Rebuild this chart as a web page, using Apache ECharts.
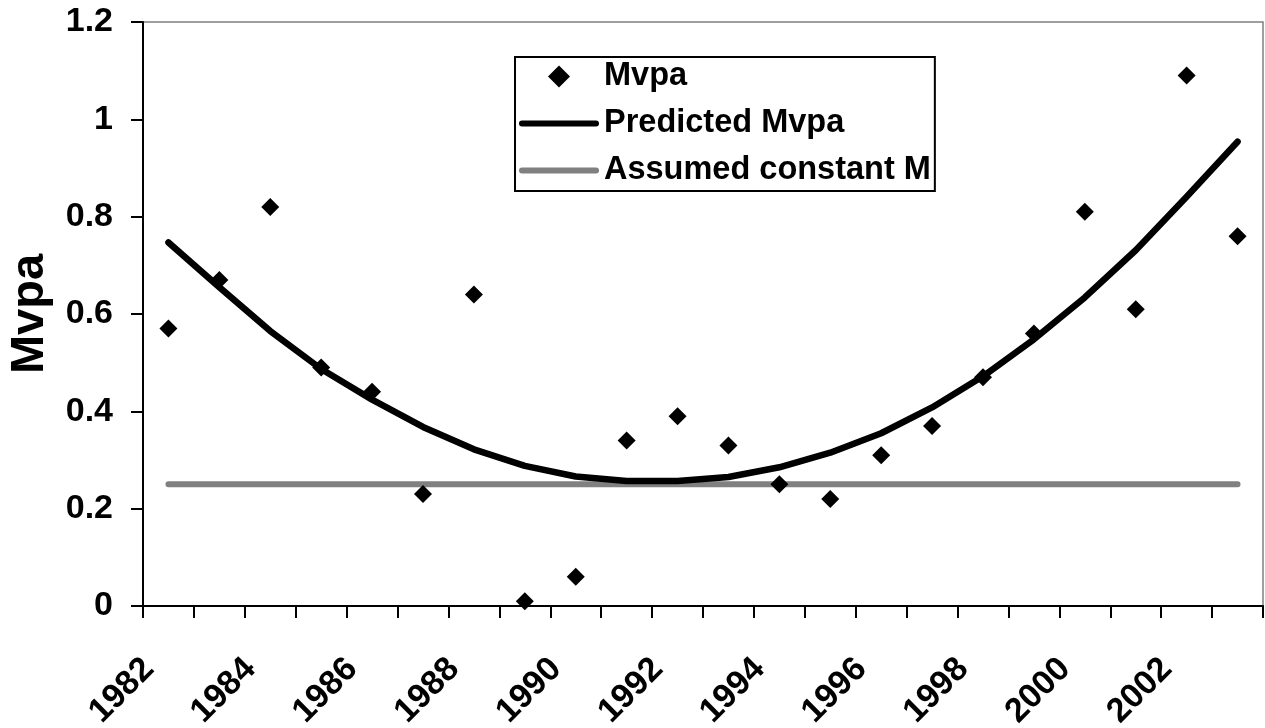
<!DOCTYPE html>
<html>
<head>
<meta charset="utf-8">
<script src="https://cdn.jsdelivr.net/npm/echarts@6/dist/echarts.min.js"></script>
<style>
html,body{margin:0;padding:0;background:#fff;}
#chart{width:1265px;height:728px;}
</style>
</head>
<body>
<div id="chart"></div>
<script>
const years = ['1982','1983','1984','1985','1986','1987','1988','1989','1990','1991','1992','1993','1994','1995','1996','1997','1998','1999','2000','2001','2002','2003'];
const mvpa = [0.57,0.67,0.82,0.49,0.44,0.23,0.64,0.01,0.06,0.34,0.39,0.33,0.25,0.22,0.31,0.37,0.47,0.56,0.81,0.61,1.09,0.76];
const predictedMvpa = [0.747,0.655,0.565,0.487,0.424,0.368,0.322,0.288,0.266,0.257,0.257,0.265,0.285,0.315,0.355,0.408,0.472,0.548,0.634,0.731,0.841,0.954];
const assumedM = [0.25,0.25,0.25,0.25,0.25,0.25,0.25,0.25,0.25,0.25,0.25,0.25,0.25,0.25,0.25,0.25,0.25,0.25,0.25,0.25,0.25,0.25];
const yTicks = {min: 0, max: 1.2, interval: 0.2};

const FONT = '"Liberation Sans", Arial, Helvetica, sans-serif';
const DIAMOND_ICON = 'path://M0,-1L1,0L0,1L-1,0Z';
const LINE_ICON = 'path://M3,0H77A3,3 0 0 1 77,6H3A3,3 0 0 1 3,0Z';

const chart = echarts.init(document.getElementById('chart'), null, {renderer: 'canvas'});
chart.setOption({
  animation: false,
  backgroundColor: '#fff',
  textStyle: {fontFamily: FONT},
  grid: {left: 143, right: 2, top: 22, bottom: 122, containLabel: false, outerBoundsMode: 'none', show: true, borderColor: '#808080', borderWidth: 1.5},
  legend: {
    orient: 'vertical',
    left: 515, top: 57,
    padding: [3, 4, 4, 4],
    itemGap: 14,
    itemWidth: 80, itemHeight: 22,
    symbolKeepAspect: true,
    borderColor: '#000', borderWidth: 2,
    backgroundColor: '#fff',
    textStyle: {fontFamily: FONT, fontWeight: 'bold', fontSize: 32.5, color: '#000'},
    data: [
      {name: 'Mvpa', icon: DIAMOND_ICON},
      {name: 'Predicted Mvpa', icon: LINE_ICON},
      {name: 'Assumed constant M', icon: LINE_ICON}
    ]
  },
  xAxis: {
    type: 'category',
    data: years,
    boundaryGap: true,
    axisLine: {lineStyle: {color: '#000', width: 2}},
    axisTick: {show: true, interval: 0, length: 12, lineStyle: {color: '#000', width: 2}},
    axisLabel: {interval: 1, rotate: 45, margin: 38, padding: [0, 28, 0, 0], fontFamily: FONT, fontWeight: 'bold', fontSize: 34, color: '#000'},
    splitLine: {show: false}
  },
  yAxis: {
    type: 'value',
    min: yTicks.min, max: yTicks.max, interval: yTicks.interval,
    name: 'Mvpa',
    nameLocation: 'middle',
    nameGap: 89,
    nameTextStyle: {fontFamily: FONT, fontWeight: 'bold', fontSize: 47, color: '#000'},
    axisLine: {show: true, lineStyle: {color: '#000', width: 2}},
    axisTick: {show: true, length: 12, lineStyle: {color: '#000', width: 2}},
    axisLabel: {margin: 30, fontFamily: FONT, fontWeight: 'bold', fontSize: 34, color: '#000'},
    splitLine: {show: false}
  },
  series: [
    {
      name: 'Assumed constant M',
      type: 'line',
      data: assumedM,
      symbol: 'none',
      z: 2,
      lineStyle: {color: '#808080', width: 6, cap: 'round'},
      itemStyle: {color: '#808080'}
    },
    {
      name: 'Predicted Mvpa',
      type: 'line',
      data: predictedMvpa,
      symbol: 'none',
      z: 3,
      lineStyle: {color: '#000', width: 6.5, cap: 'round', join: 'round'},
      itemStyle: {color: '#000'}
    },
    {
      name: 'Mvpa',
      type: 'scatter',
      data: mvpa,
      symbol: 'diamond',
      symbolSize: 18,
      z: 4,
      itemStyle: {color: '#000', opacity: 1}
    }
  ]
});
</script>
</body>
</html>
